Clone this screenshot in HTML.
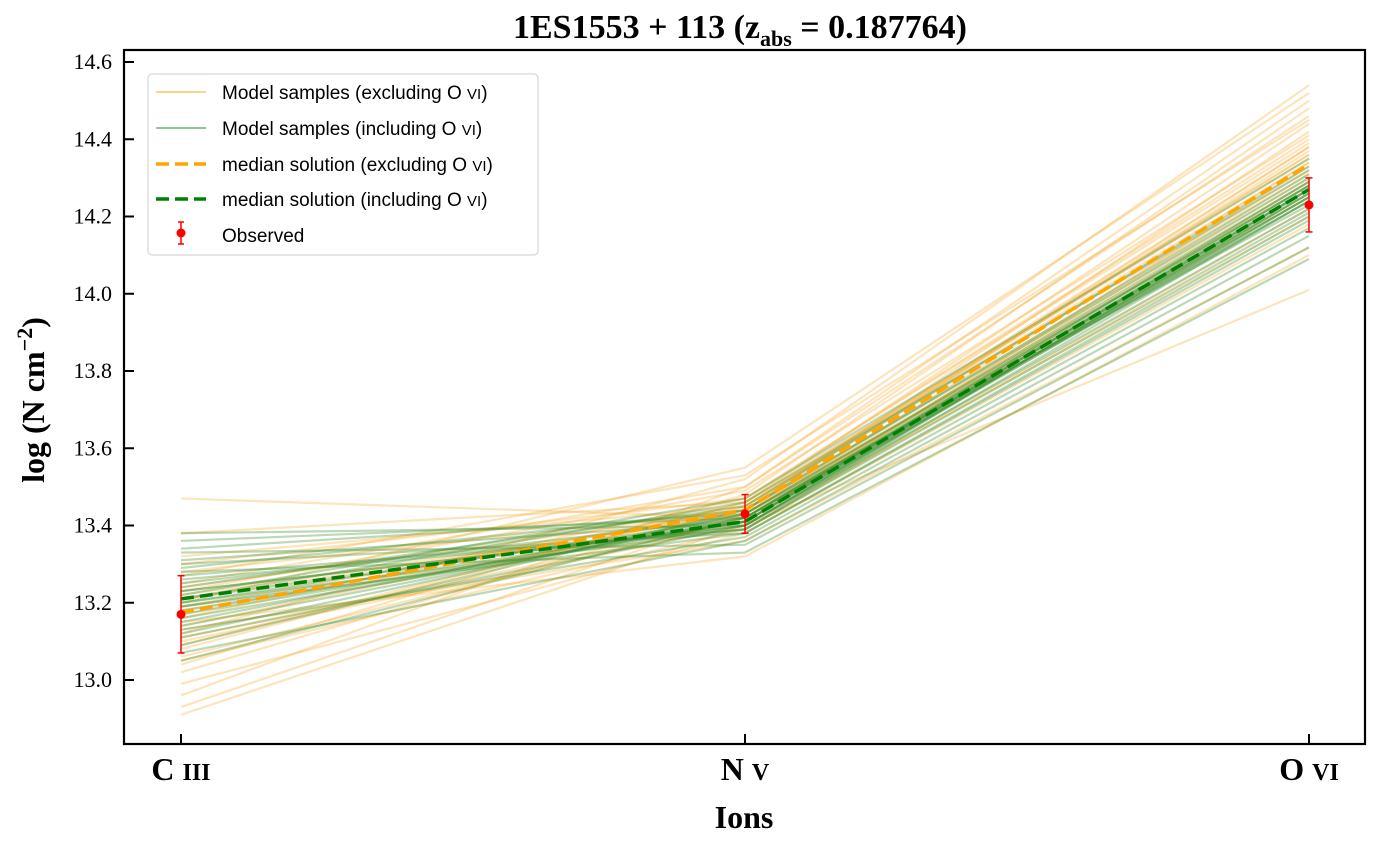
<!DOCTYPE html>
<html><head><meta charset="utf-8"><style>
body{margin:0;background:#fff;}
svg text{font-family:"Liberation Serif",serif;}
.sans{font-family:"Liberation Sans",sans-serif;}
</style></head><body>
<svg id="chart" width="1374" height="845" xmlns="http://www.w3.org/2000/svg">
<rect width="1374" height="845" fill="#fff"/>
<text x="740" y="38" text-anchor="middle" font-size="34" font-weight="bold">1ES1553 + 113 (z<tspan font-size="22" dy="8">abs</tspan><tspan dy="-8"> = 0.187764)</tspan></text>
<g id="samples"></g>
<g id="medians"></g>
<g id="obs"></g>
<rect x="124" y="50" width="1241" height="694" fill="none" stroke="#000" stroke-width="2.2"/>
<g id="yticks"></g>
<g id="xticks"></g>
<text x="744" y="828" text-anchor="middle" font-size="32" font-weight="bold">Ions</text>
<text transform="translate(44,400) rotate(-90)" text-anchor="middle" font-size="32" font-weight="bold">log (N cm<tspan font-size="22" dy="-12">−2</tspan><tspan dy="12">)</tspan></text>
<g>
<rect x="148" y="74" width="390" height="181" rx="4" fill="#fff" fill-opacity="0.85" stroke="#ccc" stroke-width="1"/>
<line x1="156" y1="92" x2="206" y2="92" stroke="#fbd48a" stroke-width="2"/>
<text class="sans" x="222" y="99" font-size="19">Model samples (excluding O <tspan font-size="15">VI</tspan>)</text>
<line x1="156" y1="128" x2="206" y2="128" stroke="#8fc98a" stroke-width="2"/>
<text class="sans" x="222" y="135" font-size="19">Model samples (including O <tspan font-size="15">VI</tspan>)</text>
<line x1="156" y1="164" x2="206" y2="164" stroke="#ffa500" stroke-width="3.5" stroke-dasharray="13,6"/>
<text class="sans" x="222" y="171" font-size="19">median solution (excluding O <tspan font-size="15">VI</tspan>)</text>
<line x1="156" y1="199" x2="206" y2="199" stroke="#008000" stroke-width="3.5" stroke-dasharray="13,6"/>
<text class="sans" x="222" y="206" font-size="19">median solution (including O <tspan font-size="15">VI</tspan>)</text>
<line x1="181" y1="222" x2="181" y2="244" stroke="red" stroke-width="1.5"/>
<line x1="178" y1="222" x2="184" y2="222" stroke="red" stroke-width="1.5"/>
<line x1="178" y1="244" x2="184" y2="244" stroke="red" stroke-width="1.5"/>
<circle cx="181" cy="233" r="4.5" fill="red"/>
<text class="sans" x="222" y="242" font-size="19">Observed</text>
</g>
</svg>
<script>
const ions=["C III","N V","O VI"];
const yTicks=[13.0,13.2,13.4,13.6,13.8,14.0,14.2,14.4,14.6];
const obsVal=[13.17,13.43,14.23];
const obsErr=[0.10,0.05,0.07];
const medExcl=[13.175,13.44,14.335];
const medIncl=[13.21,13.41,14.27];
const sampExclC=[13.47,13.38,13.32,13.28,13.25,13.22,13.20,13.18,13.16,13.14,13.12,13.10,13.08,13.06,13.04,13.02,12.99,12.96,12.93,12.91,13.27,13.13,13.19,13.23,13.11,13.05,13.30,13.15,13.17,13.21,13.09,13.24];
const sampExclN=[13.42,13.46,13.45,13.44,13.50,13.43,13.55,13.41,13.47,13.44,13.52,13.40,13.46,13.42,13.48,13.45,13.38,13.50,13.43,13.40,13.53,13.36,13.44,13.49,13.41,13.39,13.47,13.32,13.45,13.43,13.46,13.44];
const sampExclO=[14.30,14.35,14.38,14.42,14.46,14.28,14.52,14.33,14.40,14.25,14.54,14.20,14.44,14.31,14.48,14.36,14.18,14.50,14.34,14.01,14.45,14.12,14.37,14.41,14.29,14.22,14.39,14.10,14.34,14.32,14.36,14.38];
const sampInclC=[13.38,13.36,13.34,13.31,13.29,13.27,13.25,13.23,13.21,13.19,13.17,13.15,13.13,13.11,13.09,13.07,13.05,13.33,13.24,13.20,13.16,13.28,13.12,13.30,13.22,13.18,13.21,13.20,13.23,13.19,13.26,13.14];
const sampInclN=[13.40,13.42,13.43,13.41,13.44,13.39,13.42,13.40,13.46,13.38,13.41,13.43,13.37,13.40,13.44,13.36,13.42,13.35,13.45,13.39,13.41,13.33,13.43,13.38,13.47,13.40,13.41,13.42,13.40,13.41,13.39,13.42];
const sampInclO=[14.22,14.25,14.28,14.24,14.30,14.21,14.27,14.26,14.32,14.19,14.29,14.23,14.17,14.26,14.31,14.15,14.28,14.12,14.33,14.24,14.27,14.09,14.29,14.20,14.35,14.25,14.27,14.26,14.28,14.25,14.27,14.24];
const NS="http://www.w3.org/2000/svg";
const xPos=[181,741,1309];
function X(i){return xPos[0]+(xPos[2]-xPos[0])*i/(ions.length-1);}
function Y(v){return 680-(v-13)*386.25;}
function el(t,a,p){const e=document.createElementNS(NS,t);for(const k in a)e.setAttribute(k,a[k]);document.getElementById(p).appendChild(e);return e;}
function pts(arr){return arr.map((v,i)=>X(i)+","+Y(v)).join(" ");}
for(let i=0;i<sampExclC.length;i++){
 const l=el("polyline",{points:pts([sampExclC[i],sampExclN[i],sampExclO[i]]),fill:"none",stroke:"#f5a623","stroke-opacity":"0.3","stroke-width":"2.2"},"samples");
 
 
}
for(let i=0;i<sampInclC.length;i++){
 const l=el("polyline",{points:pts([sampInclC[i],sampInclN[i],sampInclO[i]]),fill:"none",stroke:"#3f8f2e","stroke-opacity":"0.35","stroke-width":"2.2"},"samples");
 
 
}
const m1=el("polyline",{points:pts(medExcl),fill:"none",stroke:"#ffa500","stroke-width":"3.5","stroke-dasharray":"13,6"},"medians");


const m2=el("polyline",{points:pts(medIncl),fill:"none",stroke:"#008000","stroke-width":"3.5","stroke-dasharray":"13,6"},"medians");


obsVal.forEach((v,i)=>{
 const x=X(i),y1=Y(v-obsErr[i]),y2=Y(v+obsErr[i]);
 el("line",{x1:x,x2:x,y1:y1,y2:y2,stroke:"red","stroke-width":"1.5"},"obs");
 el("line",{x1:x-3.5,x2:x+3.5,y1:y1,y2:y1,stroke:"red","stroke-width":"1.5"},"obs");
 el("line",{x1:x-3.5,x2:x+3.5,y1:y2,y2:y2,stroke:"red","stroke-width":"1.5"},"obs");
 const c=el("circle",{cx:x,cy:Y(v),r:"4.5",fill:"red"},"obs");
 
 
});
yTicks.forEach(v=>{
 el("line",{x1:124,x2:134,y1:Y(v),y2:Y(v),stroke:"#000","stroke-width":"2"},"yticks");
 const t=el("text",{x:112,y:Y(v)+7,"text-anchor":"end","font-size":"22"},"yticks");
 t.textContent=v.toFixed(1);
 
 
});
ions.forEach((n,i)=>{
 el("line",{x1:X(i),x2:X(i),y1:744,y2:734,stroke:"#000","stroke-width":"2"},"xticks");
 const parts=n.split(" ");
 const t=el("text",{x:X(i),y:780,"text-anchor":"middle","font-size":"32","font-weight":"bold"},"xticks");
 
 
 t.textContent=parts[0]+" ";
 const s=document.createElementNS(NS,"tspan");s.setAttribute("font-size","24");s.textContent=parts[1];t.appendChild(s);
});
</script>
</body></html>
